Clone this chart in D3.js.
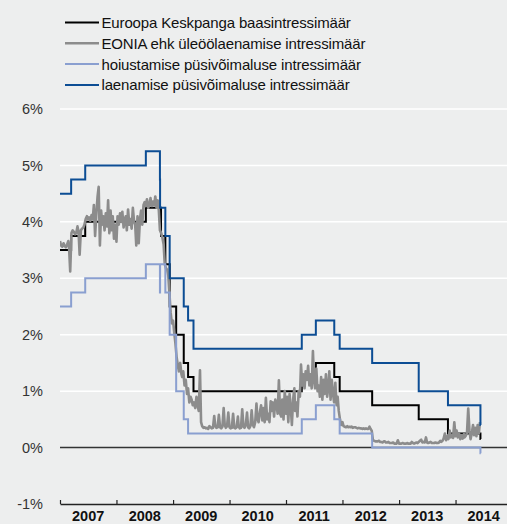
<!DOCTYPE html>
<html>
<head>
<meta charset="utf-8" />
<title>EKP intressimäärad</title>
<style>
html, body {
    margin: 0;
    padding: 0;
    background: #edeeee;
}
#graph {
    width: 507px;
    height: 524px;
}
text {
    font-family: "Liberation Sans", Arial, sans-serif;
}
</style>
</head>
<body>
<div id="graph"></div>
<script src="https://cdnjs.cloudflare.com/ajax/libs/d3/7.8.5/d3.min.js"></script>
<script>
// legend / series names
var seriesNames = [
    "Euroopa Keskpanga baasintressimäär",
    "EONIA ehk üleöölaenamise intressimäär",
    "hoiustamise püsivõimaluse intressimäär",
    "laenamise püsivõimaluse intressimäär"
]

// ECB key rates: date of change and the new level (%)
var rateChangeDates = ["2007-01-01", "2007-03-14", "2007-06-13", "2008-07-09", "2008-10-08", "2008-10-09",
    "2008-10-15", "2008-11-12", "2008-12-10", "2009-01-21", "2009-03-11", "2009-04-08", "2009-05-13",
    "2011-04-13", "2011-07-13", "2011-11-09", "2011-12-14", "2012-07-11", "2013-05-08", "2013-11-13", "2014-06-11"]
var mainRate    = [3.50, 3.75, 4.00, 4.25, 4.25, 4.25, 3.75, 3.25, 2.50, 2.00, 1.50, 1.25, 1.00, 1.25, 1.50, 1.25, 1.00, 0.75, 0.50, 0.25, 0.15]
var depositRate = [2.50, 2.75, 3.00, 3.25, 2.75, 3.25, 3.25, 2.75, 2.00, 1.00, 0.50, 0.25, 0.25, 0.50, 0.75, 0.50, 0.25, 0.00, 0.00, 0.00, -0.10]
var lendingRate = [4.50, 4.75, 5.00, 5.25, 4.75, 4.25, 4.25, 3.75, 3.00, 3.00, 2.50, 2.25, 1.75, 2.00, 2.25, 2.00, 1.75, 1.50, 1.00, 0.75, 0.40]
var seriesEnd = "2014-06-13"

// EONIA: four readings a month (days below)
var sampleDays = [1, 8, 16, 24]
var eonia2007 = [3.66, 3.58, 3.56, 3.62,  3.57, 3.55, 3.60, 3.66,  3.52, 3.12, 3.80, 3.85,
                 3.82, 3.78, 3.80, 3.92,  3.82, 3.42, 3.85, 3.88,  3.90, 3.95, 4.05, 4.10,
                 4.05, 4.08, 4.02, 4.12,  4.05, 4.30, 3.75, 4.15,  4.45, 4.62, 3.58, 4.20,
                 3.95, 4.10, 3.85, 4.15,  3.92, 4.38, 3.80, 4.20,  3.85, 4.10, 3.70, 3.95]
var eonia2008 = [3.65, 4.10, 3.95, 4.15,  4.00, 4.18, 3.90, 4.05,  4.10, 3.85, 4.22, 3.95,
                 4.05, 3.88, 4.25, 4.00,  3.95, 3.58, 4.10, 3.62,  4.05, 4.20, 3.95, 4.30,
                 4.35, 4.28, 4.40, 4.25,  4.30, 4.42, 4.28, 4.36,  4.30, 4.45, 4.25, 4.38,
                 4.20, 3.85, 3.80, 3.72,  3.60, 3.25, 3.18, 3.15,  3.05, 2.75, 2.40, 2.20]
var eonia2009 = [2.25, 2.05, 1.85, 1.60,  1.45, 1.35, 1.50, 1.30,  1.25, 1.35, 1.10, 1.20,
                 0.95, 1.05, 0.80, 0.90,  0.85, 0.75, 0.80, 0.70,  0.90, 0.75, 0.65, 1.37,
                 0.45, 0.38, 0.35, 0.36,  0.34, 0.35, 0.33, 0.38,  0.36, 0.34, 0.35, 0.56,
                 0.38, 0.35, 0.36, 0.58,  0.36, 0.34, 0.37, 0.70,  0.40, 0.35, 0.38, 0.62]
var eonia2010 = [0.36, 0.34, 0.35, 0.60,  0.35, 0.34, 0.36, 0.55,  0.38, 0.34, 0.35, 0.68,
                 0.37, 0.35, 0.40, 0.62,  0.36, 0.34, 0.38, 0.66,  0.40, 0.36, 0.45, 0.78,
                 0.50, 0.45, 0.62, 0.75,  0.48, 0.70, 0.45, 0.88,  0.50, 0.60, 0.45, 0.82,
                 0.65, 0.80, 0.55, 0.85,  0.75, 0.60, 1.19, 0.60,  0.55, 0.85, 0.50, 1.00]
var eonia2011 = [0.60, 0.90, 0.45, 0.95,  0.70, 0.40, 0.85, 1.05,  0.65, 0.80, 0.55, 1.00,
                 0.90, 1.47, 1.10, 1.30,  1.05, 1.35, 1.20, 1.45,  1.10, 1.30, 1.05, 1.71,
                 1.20, 1.05, 1.40, 1.00,  1.10, 0.90, 1.25, 0.85,  1.20, 0.95, 1.30, 0.90,
                 1.05, 1.35, 0.85, 1.20,  0.95, 0.80, 1.15, 0.75,  0.90, 0.65, 0.50, 0.40]
var eonia2012 = [0.45, 0.38, 0.37, 0.36,  0.38, 0.36, 0.37, 0.36,  0.37, 0.35, 0.36, 0.36,
                 0.35, 0.34, 0.35, 0.34,  0.34, 0.33, 0.34, 0.33,  0.34, 0.33, 0.33, 0.37,
                 0.33, 0.30, 0.13, 0.12,  0.11, 0.11, 0.11, 0.12,  0.10, 0.10, 0.09, 0.11,
                 0.11, 0.09, 0.09, 0.10,  0.08, 0.08, 0.08, 0.09,  0.07, 0.07, 0.07, 0.13]
var eonia2013 = [0.07, 0.07, 0.07, 0.08,  0.07, 0.07, 0.07, 0.08,  0.07, 0.07, 0.07, 0.10,
                 0.08, 0.07, 0.08, 0.09,  0.08, 0.10, 0.12, 0.14,  0.09, 0.10, 0.09, 0.18,
                 0.09, 0.08, 0.09, 0.10,  0.08, 0.08, 0.08, 0.09,  0.08, 0.08, 0.09, 0.12,
                 0.10, 0.12, 0.16, 0.25,  0.13, 0.20, 0.15, 0.30,  0.18, 0.22, 0.17, 0.45]
var eonia2014 = [0.20, 0.30, 0.18, 0.25,  0.15, 0.22, 0.16, 0.24,  0.18, 0.21, 0.26, 0.69,
                 0.30, 0.15, 0.25, 0.40,  0.22, 0.35, 0.20, 0.40,  0.25, 0.45]

var yTicks = [-1, 0, 1, 2, 3, 4, 5, 6]
var yearLabels = [2007, 2008, 2009, 2010, 2011, 2012, 2013, 2014]

!(function(){
    "use strict"

    var width = 507, height = 524
    var left = 60, right = 512
    var parse = d3.timeParse("%Y-%m-%d")

    var colors = ["#000000", "#8c8c8c", "#8a9fd0", "#0c4d94"]
    var widths = [2, 2.6, 2, 2]

    var svg = d3.select("#graph").append("svg")
        .attr("width", width)
        .attr("height", height)

    svg.append("rect").attr("width", width).attr("height", height).attr("fill", "#edeeee")

    var x = d3.scaleTime()
        .domain([new Date(2007, 0, 1), new Date(2015, 0, 1)])
        .range([left, right])
    var y = d3.scaleLinear()
        .domain([-1, 6])
        .range([504, 109])

    function stepSeries(values) {
        var pts = rateChangeDates.map(function(d, i) { return {date: parse(d), value: values[i]} })
        pts.push({date: parse(seriesEnd), value: values[values.length - 1]})
        return pts
    }

    var eonia = []
    ;[[2007, eonia2007], [2008, eonia2008], [2009, eonia2009], [2010, eonia2010],
      [2011, eonia2011], [2012, eonia2012], [2013, eonia2013], [2014, eonia2014]].forEach(function(yr) {
        yr[1].forEach(function(v, i) {
            eonia.push({date: new Date(yr[0], Math.floor(i / 4), sampleDays[i % 4]), value: v})
        })
    })

    // grid
    svg.append("g").selectAll("line")
        .data(yTicks.filter(function(d) { return d > 0 }))
        .enter().append("line")
        .attr("x1", left).attr("x2", width)
        .attr("y1", function(d) { return y(d) }).attr("y2", function(d) { return y(d) })
        .attr("stroke", "#ffffff")
        .attr("stroke-width", 1.5)

    svg.append("line")
        .attr("x1", left).attr("x2", width)
        .attr("y1", y(0)).attr("y2", y(0))
        .attr("stroke", "#333333")
        .attr("stroke-width", 1.4)

    // y labels
    var yAxis = svg.append("g")
        .attr("transform", "translate(43,0)")
        .call(d3.axisLeft(y).tickValues(yTicks).tickSize(0).tickPadding(0)
            .tickFormat(function(d) { return d + "%" }))
    yAxis.select(".domain").remove()
    yAxis.selectAll("text")
        .style("font-family", "'Liberation Sans', Arial, sans-serif")
        .style("font-size", "14.5px")
        .attr("fill", "#333333")

    // x axis
    var xAxis = svg.append("g")
        .attr("transform", "translate(0," + y(-1) + ")")
        .call(d3.axisBottom(x).ticks(d3.timeYear.every(1)).tickSize(-4).tickSizeOuter(0).tickFormat(""))
    xAxis.select(".domain").attr("stroke", "#222222").attr("stroke-width", 1.5)
    xAxis.selectAll(".tick line").attr("stroke", "#222222").attr("stroke-width", 1.2)

    svg.append("g").selectAll("text")
        .data(yearLabels)
        .enter().append("text")
        .attr("x", function(d) { return x(new Date(d, 6, 2)) })
        .attr("y", 521)
        .attr("text-anchor", "middle")
        .style("font-size", "14.5px")
        .style("font-weight", "bold")
        .attr("fill", "#111111")
        .text(function(d) { return d })

    // series
    svg.append("clipPath").attr("id", "plot")
        .append("rect").attr("x", left).attr("y", 0).attr("width", width - left).attr("height", height)

    var stepLine = d3.line()
        .x(function(d) { return x(d.date) })
        .y(function(d) { return y(d.value) })
        .curve(d3.curveStepAfter)
    var plainLine = d3.line()
        .x(function(d) { return x(d.date) })
        .y(function(d) { return y(d.value) })

    var series = [
        {path: stepLine(stepSeries(mainRate)), i: 0},
        {path: plainLine(eonia), i: 1},
        {path: stepLine(stepSeries(depositRate)), i: 2},
        {path: stepLine(stepSeries(lendingRate)), i: 3}
    ]

    svg.append("g").attr("clip-path", "url(#plot)")
        .selectAll("path")
        .data(series)
        .enter().append("path")
        .attr("d", function(d) { return d.path })
        .attr("fill", "none")
        .attr("stroke", function(d) { return colors[d.i] })
        .attr("stroke-width", function(d) { return widths[d.i] })
        .attr("stroke-linejoin", function(d) { return d.i == 1 ? "round" : "miter" })

    // legend
    var legend = svg.append("g").selectAll("g")
        .data(seriesNames)
        .enter().append("g")
        .attr("transform", function(d, i) { return "translate(0," + (22.5 + i * 20.8) + ")" })
    legend.append("line")
        .attr("x1", 65).attr("x2", 99)
        .attr("stroke", function(d, i) { return colors[i] })
        .attr("stroke-width", function(d, i) { return widths[i] })
    legend.append("text")
        .attr("x", 101.5)
        .attr("dy", "0.36em")
        .style("font-size", "15px")
        .style("letter-spacing", "-0.15px")
        .attr("fill", "#111111")
        .text(function(d) { return d })
}());
</script>
</body>
</html>
